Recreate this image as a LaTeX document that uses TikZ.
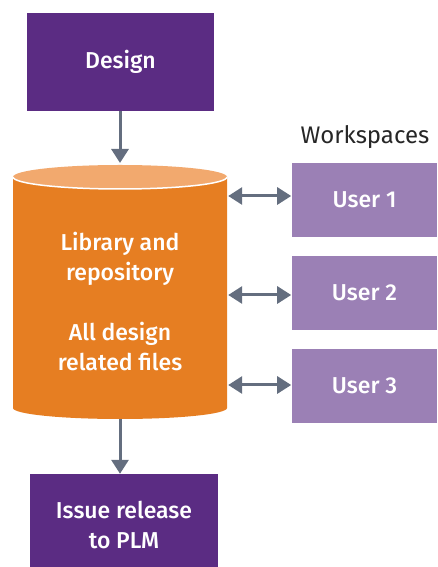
\documentclass[tikz,border=0pt]{standalone}
\usepackage{fontspec}
\setmainfont{Fira Sans}[BoldFont={Fira Sans Medium}]
\usetikzlibrary{arrows.meta,positioning}
\definecolor{darkpurple}{HTML}{5B2C83}
\definecolor{lightpurple}{HTML}{9B80B5}
\definecolor{repoorange}{HTML}{E67E22}
\definecolor{repotop}{HTML}{F2A96E}
\definecolor{arrowgray}{HTML}{646E7F}
\begin{document}
\begin{tikzpicture}[x=1pt,y=1pt,
    box/.style={fill=darkpurple,text=white,font=\fontsize{23}{30}\selectfont\bfseries,align=center,inner sep=0pt},
    userbox/.style={fill=lightpurple,text=white,font=\fontsize{23}{30}\selectfont\bfseries,minimum width=145pt,minimum height=74pt,inner sep=0pt},
    link/.style={arrowgray,line width=3pt,-{Triangle[width=17pt,length=14pt]}},
    twolink/.style={arrowgray,line width=3pt,{Triangle[width=17pt,length=14pt]}-{Triangle[width=17pt,length=14pt]}}]
                \useasboundingbox (0,0) rectangle (437,567);

                % repository cylinder
                \fill[repoorange] (13,390) -- (13,159) arc[start angle=180,end angle=360,x radius=107,y radius=11] -- (227,390) -- cycle;
                \fill[repotop] (120,390) ellipse[x radius=107,y radius=12];
                \draw[white,line width=1.5pt] (13,390) arc[start angle=180,end angle=360,x radius=107,y radius=12];
                \node[inner sep=0pt,minimum width=214pt,minimum height=254pt] (repo) at (120,276) {};
                \node[text=white,font=\fontsize{23}{30}\selectfont\bfseries,align=center] (repotext) at (120,265)
                    {Library and\\repository\\[30pt]All design\\related files};

                \node[box,minimum width=187pt,minimum height=98pt] (design) at (120.5,505) {Design};
                \node[box,minimum width=188pt,minimum height=93pt] (release) at (124,46.5) {};
                \node[box,fill=none] (releasetext) at (124,42) {Issue release\\to PLM};

                \node[userbox] (userone) at (364.5,367) {User 1};
                \node[userbox] (usertwo) at (364.5,274) {User 2};
                \node[userbox] (userthree) at (364.5,181) {User 3};
                \node[font=\fontsize{24}{28}\selectfont,text=black!85] (workspaces) at (365,430) {Workspaces};

                \draw[link] (design.south -| 120,0) -- (120,404);
                \draw[link] (120,148) -- (release.north -| 120,0);
                \draw[twolink] (repo.east |- userone.west) ++(1,4) -- ++(63,0);
                \draw[twolink] (repo.east |- usertwo.west) ++(1,-2) -- ++(63,0);
                \draw[twolink] (repo.east |- userthree.west) ++(1,1) -- ++(63,0);
            \end{tikzpicture}
\end{document}
